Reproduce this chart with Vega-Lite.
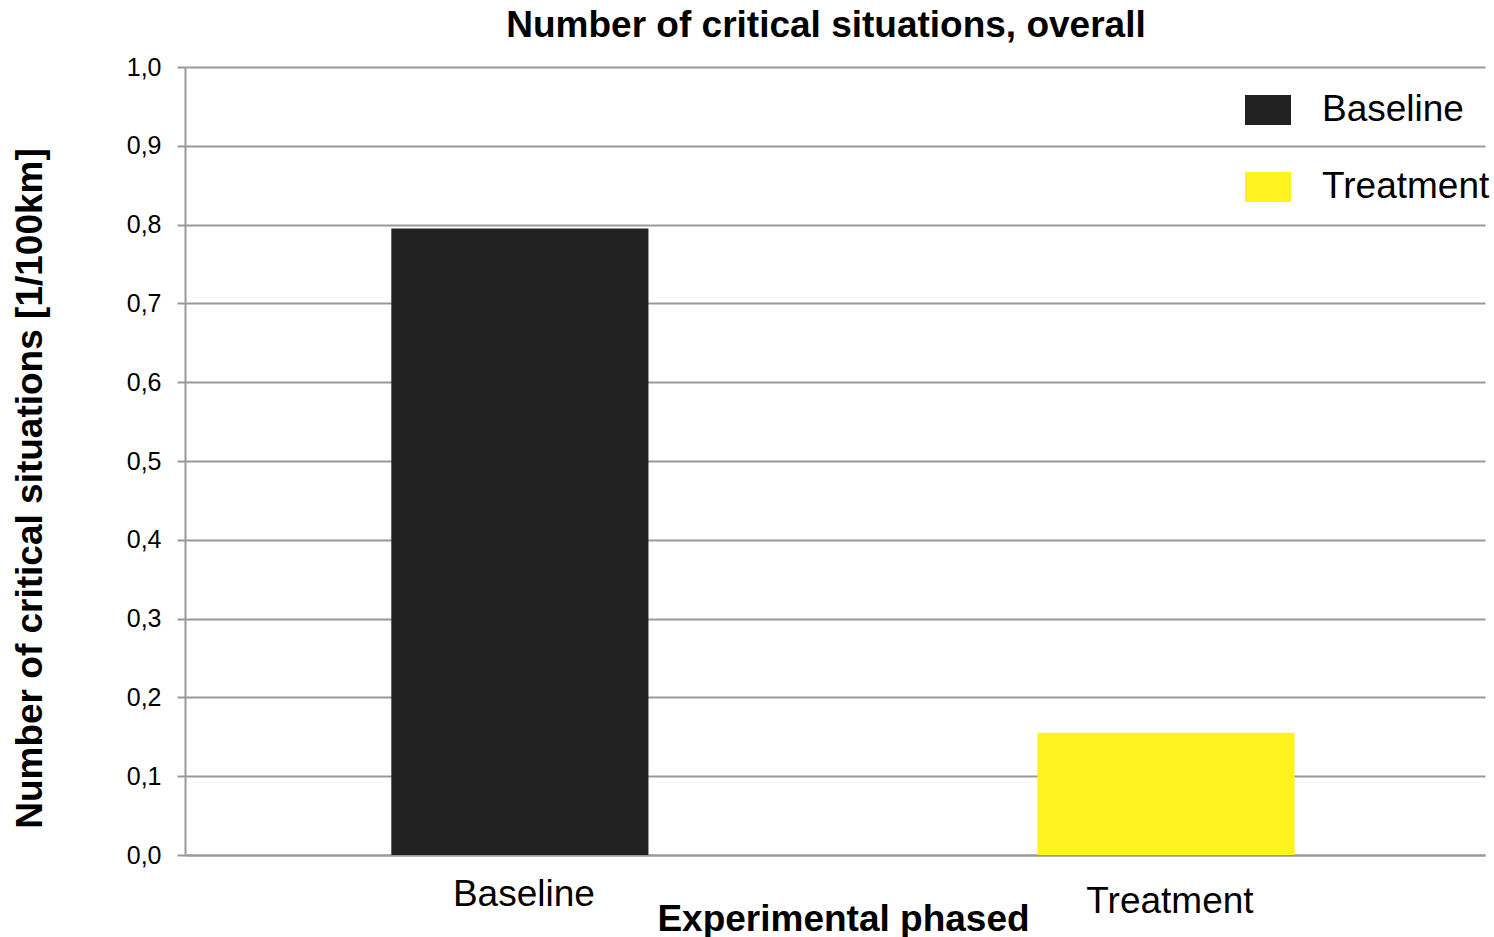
{
  "$schema": "https://vega.github.io/schema/vega-lite/v6.json",
  "autosize": "none",
  "width": 1300,
  "height": 788,
  "padding": {"left": 185, "top": 67, "right": 9, "bottom": 82},
  "background": "white",
  "config": {
    "font": "Liberation Sans",
    "view": {"stroke": null}
  },
  "title": {
    "text": "Number of critical situations, overall",
    "font": "Liberation Sans",
    "fontSize": 37,
    "fontWeight": "bold",
    "color": "black",
    "anchor": "middle",
    "dx": -9,
    "dy": 18,
    "offset": 28
  },
  "data": {
    "values": [
      {"phase": "Baseline", "value": 0.795},
      {"phase": "Treatment", "value": 0.155}
    ]
  },
  "mark": {"type": "bar"},
  "encoding": {
    "x": {
      "field": "phase",
      "type": "nominal",
      "sort": ["Baseline", "Treatment"],
      "scale": {"paddingInner": 0.602, "paddingOuter": 0.307, "align": 0.52},
      "axis": {
        "title": "Experimental phased",
        "titleFont": "Liberation Sans",
        "titleFontSize": 37,
        "titleFontWeight": "bold",
        "titleColor": "black",
        "titleX": 658,
        "titleY": 75,
        "titleBaseline": "alphabetic",
        "titleAlign": "center",
        "labelFont": "Liberation Sans",
        "labelFontSize": 37,
        "labelColor": "black",
        "labelAngle": 0,
        "labelOffset": 4,
        "labelPadding": {"condition": {"test": "datum.value == 'Treatment'", "value": 28}, "value": 21},
        "ticks": false,
        "domain": true,
        "domainColor": "#999999",
        "domainWidth": 2,
        "grid": false
      }
    },
    "y": {
      "field": "value",
      "type": "quantitative",
      "scale": {"domain": [0, 1], "nice": false},
      "axis": {
        "title": "Number of critical situations [1/100km]",
        "titleFont": "Liberation Sans",
        "titleFontSize": 37,
        "titleFontWeight": "bold",
        "titleColor": "black",
        "titleX": -155,
        "titleY": 421,
        "titleAngle": -90,
        "titleBaseline": "middle",
        "titleAlign": "center",
        "values": [0, 0.1, 0.2, 0.3, 0.4, 0.5, 0.6, 0.7, 0.8, 0.9, 1.0],
        "labelExpr": "replace(format(datum.value, '.1f'), '.', ',')",
        "labelFont": "Liberation Sans",
        "labelFontSize": 25,
        "labelColor": "black",
        "labelPadding": 16,
        "tickSize": 8,
        "tickColor": "#999999",
        "tickWidth": 2,
        "domainColor": "#999999",
        "domainWidth": 2,
        "grid": true,
        "gridColor": "#999999",
        "gridWidth": 2
      }
    },
    "color": {
      "field": "phase",
      "type": "nominal",
      "scale": {"domain": ["Baseline", "Treatment"], "range": ["#222222", "#FFF21F"]},
      "legend": {
        "title": null,
        "orient": "none",
        "legendX": 1060,
        "legendY": 20,
        "padding": 0,
        "symbolType": "M-1,-0.652H1V0.652H-1Z",
        "symbolSize": 2116,
        "symbolStrokeWidth": 0,
        "symbolOpacity": 1,
        "labelFont": "Liberation Sans",
        "labelFontSize": 37,
        "labelColor": "black",
        "labelOffset": 31,
        "labelLimit": 400,
        "rowPadding": 36,
        "fillColor": null
      }
    }
  }
}
